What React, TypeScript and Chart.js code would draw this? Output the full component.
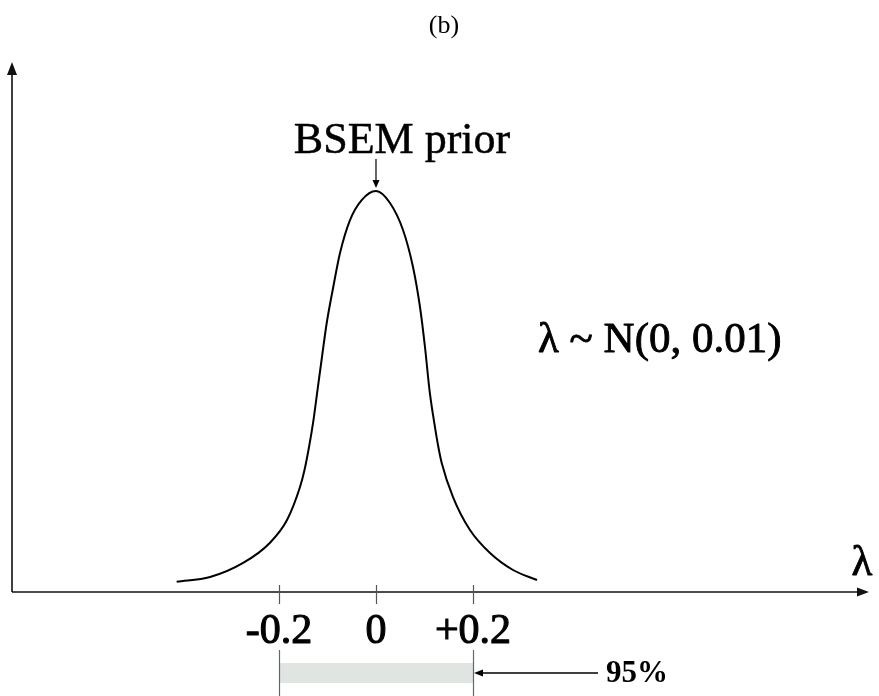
import React, { useEffect, useRef } from "react";
import { Chart, registerables } from "chart.js";

Chart.register(...registerables);

// Curve of the BSEM prior (lambda vs density)
const lambdaValues = [
  -0.411, -0.342, -0.274, -0.219, -0.1835, -0.1567, -0.1474, -0.1381, -0.1289, -0.1206,
  -0.1113, -0.1016, -0.088, -0.0742, -0.0536, -0.0295, 0,
  0.0289, 0.0557, 0.0763, 0.0907, 0.101, 0.1103, 0.1202, 0.1278, 0.1355, 0.1588,
  0.1938, 0.2351, 0.2825, 0.332,
];
const densityValues = [
  0.102, 0.149, 0.289, 0.488, 0.716, 1.045, 1.214, 1.443, 1.711, 2.01,
  2.341, 2.677, 3.038, 3.373, 3.701, 3.9, 3.99,
  3.871, 3.602, 3.234, 2.836, 2.438, 2.01, 1.682, 1.463, 1.284, 0.945,
  0.617, 0.388, 0.219, 0.119,
];

const tickValues = [-0.2, 0, 0.2];
const tickLabels = ["-0.2", "0", "+0.2"];
const intervalBounds = [-0.2, 0.2];
const intervalLabel = "95%";
const titleText = "(b)";
const peakLabel = "BSEM prior";
const formulaText = "λ ~ N(0, 0.01)";
const axisLabel = "λ";

const X_MIN = -0.7505;
const X_MAX = 1.0165;
const Y_MIN = 0;
const Y_MAX = 5.274;

const SERIF = "'Liberation Serif', 'Times New Roman', serif";

function arrowHead(ctx: CanvasRenderingContext2D, tipX: number, tipY: number, dir: "up" | "down" | "left" | "right", len: number, half: number) {
  ctx.beginPath();
  ctx.moveTo(tipX, tipY);
  if (dir === "up") {
    ctx.lineTo(tipX - half, tipY + len);
    ctx.lineTo(tipX + half, tipY + len);
  } else if (dir === "down") {
    ctx.lineTo(tipX - half, tipY - len);
    ctx.lineTo(tipX + half, tipY - len);
  } else if (dir === "left") {
    ctx.lineTo(tipX + len, tipY - half);
    ctx.lineTo(tipX + len, tipY + half);
  } else {
    ctx.lineTo(tipX - len, tipY - half);
    ctx.lineTo(tipX - len, tipY + half);
  }
  ctx.closePath();
  ctx.fill();
}

function heavyText(ctx: CanvasRenderingContext2D, text: string, x: number, y: number, stroke: number) {
  ctx.fillText(text, x, y);
  if (stroke > 0) {
    ctx.lineWidth = stroke;
    ctx.lineJoin = "round";
    ctx.strokeText(text, x, y);
  }
}

const annotPlugin = {
  id: "annot",
  afterDraw(chart: any) {
    const ctx: CanvasRenderingContext2D = chart.ctx;
    const xs = chart.scales.x;
    const ys = chart.scales.y;
    const x0 = xs.left;
    const y0 = ys.getPixelForValue(0);
    ctx.save();

    // Axes
    ctx.strokeStyle = "#111";
    ctx.fillStyle = "#111";
    ctx.lineWidth = 1.6;
    ctx.beginPath();
    ctx.moveTo(x0, y0);
    ctx.lineTo(x0, ys.top + 12);
    ctx.stroke();
    arrowHead(ctx, x0, ys.top, "up", 13, 5);

    ctx.beginPath();
    ctx.moveTo(x0, y0);
    ctx.lineTo(xs.right - 10, y0);
    ctx.stroke();
    arrowHead(ctx, xs.right, y0, "right", 12, 4.5);

    // Ticks
    ctx.strokeStyle = "#555";
    ctx.lineWidth = 1.2;
    tickValues.forEach((v) => {
      const px = Math.round(xs.getPixelForValue(v)) + 0.5;
      ctx.beginPath();
      ctx.moveTo(px, y0 - 7);
      ctx.lineTo(px, y0 + 12);
      ctx.stroke();
    });

    // Tick labels
    ctx.fillStyle = "#000";
    ctx.strokeStyle = "#000";
    ctx.font = `42px ${SERIF}`;
    ctx.textAlign = "center";
    ctx.textBaseline = "alphabetic";
    tickValues.forEach((v, i) => {
      heavyText(ctx, tickLabels[i], xs.getPixelForValue(v), 643, 1.1);
    });

    // Interval bar
    const p1 = xs.getPixelForValue(intervalBounds[0]);
    const p2 = xs.getPixelForValue(intervalBounds[1]);
    ctx.fillStyle = "#e0e5e1";
    ctx.fillRect(p1 + 1, 663, p2 - p1 - 1, 20);
    ctx.strokeStyle = "#666";
    ctx.lineWidth = 1.2;
    [p1, p2].forEach((p) => {
      const px = Math.round(p) + 0.5;
      ctx.beginPath();
      ctx.moveTo(px, 650);
      ctx.lineTo(px, 696);
      ctx.stroke();
    });

    // 95% arrow
    ctx.strokeStyle = "#000";
    ctx.fillStyle = "#000";
    ctx.lineWidth = 1.3;
    ctx.beginPath();
    ctx.moveTo(598, 673);
    ctx.lineTo(p2 + 8, 673);
    ctx.stroke();
    arrowHead(ctx, p2 + 1, 673, "left", 9, 3.5);
    ctx.font = `bold 31px ${SERIF}`;
    ctx.textAlign = "left";
    ctx.fillText(intervalLabel, 606, 682);

    // Peak label and arrow
    const peakIdx = densityValues.indexOf(Math.max(...densityValues));
    const peakX = xs.getPixelForValue(lambdaValues[peakIdx]);
    const peakY = ys.getPixelForValue(densityValues[peakIdx]);
    ctx.font = `44px ${SERIF}`;
    ctx.textAlign = "center";
    heavyText(ctx, peakLabel, peakX + 26, 153, 0.5);
    ctx.lineWidth = 1.2;
    ctx.beginPath();
    ctx.moveTo(peakX, 159);
    ctx.lineTo(peakX, peakY - 8);
    ctx.stroke();
    arrowHead(ctx, peakX, peakY - 3, "down", 8, 3.5);

    // Formula
    ctx.font = `43px ${SERIF}`;
    ctx.textAlign = "left";
    heavyText(ctx, formulaText, 538, 352, 0.9);

    // Axis label
    ctx.textAlign = "center";
    heavyText(ctx, axisLabel, 862, 575, 0.9);

    // Title
    ctx.font = `26px ${SERIF}`;
    ctx.fillText(titleText, 444, 33);

    ctx.restore();
  },
};

export default function App() {
  const canvasRef = useRef<HTMLCanvasElement | null>(null);

  useEffect(() => {
    if (!canvasRef.current) return;
    const chart = new Chart(canvasRef.current, {
      type: "line",
      data: {
        datasets: [
          {
            data: lambdaValues.map((x, i) => ({ x, y: densityValues[i] })),
            borderColor: "#000",
            borderWidth: 2,
            pointRadius: 0,
            fill: false,
            cubicInterpolationMode: "monotone",
          },
        ],
      },
      options: {
        responsive: false,
        animation: false,
        layout: { padding: { left: 12, right: 10, top: 62, bottom: 104 } },
        plugins: { legend: { display: false }, tooltip: { enabled: false } },
        scales: {
          x: { type: "linear", min: X_MIN, max: X_MAX, display: false },
          y: { type: "linear", min: Y_MIN, max: Y_MAX, display: false },
        },
      },
      plugins: [annotPlugin],
    } as any);
    return () => chart.destroy();
  }, []);

  return (
    <div style={{ position: "fixed", left: 0, top: 0, width: 879, height: 696, background: "#fff" }}>
      <canvas ref={canvasRef} width={879} height={696} style={{ display: "block" }} />
    </div>
  );
}
